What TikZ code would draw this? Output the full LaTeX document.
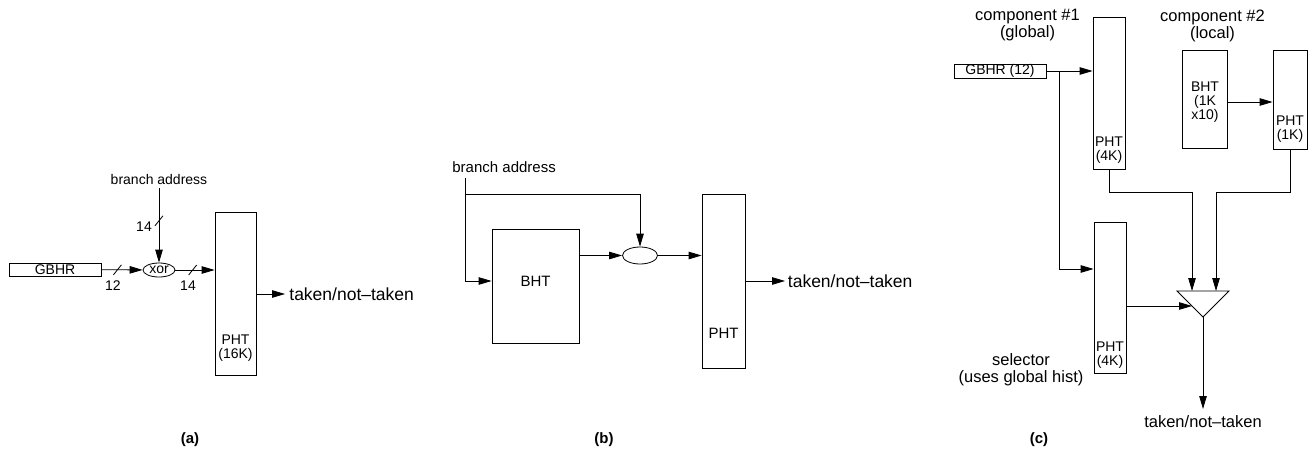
\documentclass[tikz,border=0pt]{standalone}
\usepackage{fontspec}
\setmainfont{Liberation Sans}
\usetikzlibrary{arrows.meta,shapes.geometric}
\tikzset{>={Triangle[length=13pt,width=7.5pt]},box/.style={draw,inner sep=0pt},
 txs/.style={font=\fontsize{14}{14}\selectfont,align=center},
 txm/.style={font=\fontsize{15}{15}\selectfont,align=center},
 txb/.style={font=\fontsize{16.5}{17}\selectfont,align=center},
 txo/.style={font=\fontsize{17.5}{17.5}\selectfont},
 bus/.pic={\draw[line width=0.8pt] (-4,5)--(4,-5);}}

\begin{document}
\begin{tikzpicture}[x=1pt,y=-1pt,line width=0.8pt]
\useasboundingbox (0,0) rectangle (1311,468);
% (a) gshare
\node[txs] (ba1) at (159,179) {branch address};
\node[box,txs,minimum width=92,minimum height=13] (gbhr1) at (55,269.5) {GBHR};
\node[box,txs,ellipse,minimum width=32,minimum height=14] (xor) at (159,270) {xor};
\node[box,minimum width=41,minimum height=163] (pht1) at (235.5,293.5) {};
\node[txs] (pht1t) at (235.5,348.5) {PHT\\(16K)};
\node[txo,anchor=west,inner sep=4pt] (tk1) at (285,294) {taken/not--taken};
\draw[->] (ba1) -- coordinate[pos=.44] (s1) (xor);
\draw[->] (gbhr1) -- coordinate[pos=.39] (s2) (xor);
\draw[->] (xor) -- coordinate[pos=.44] (s3) (xor -| pht1.west);
\foreach \s in {s1,s2,s3} {\pic at (\s) {bus};}
\node[txs] (w1) at (144,227) {14};
\node[txs] (w2) at (113,286) {12};
\node[txs] (w3) at (188,286) {14};
\draw[->] (pht1.east |- tk1) -- (tk1);
% (b) local
\node[txm,anchor=west,inner sep=3pt] (ba2) at (449,167) {branch address};
\coordinate (bsrc) at (465,178);
\coordinate (bj) at (465,194);
\node[box,minimum width=87,minimum height=114] (bht2) at (535.5,286) {};
\node[txm] (bht2t) at (535.5,281) {BHT};
\node[box,ellipse,minimum width=35,minimum height=17] (hsh) at (640,255.5) {};
\node[box,minimum width=43,minimum height=174] (pht2) at (723.5,281) {};
\node[txm] (pht2t) at (723.5,333) {PHT};
\node[txo,anchor=west,inner sep=2.5pt] (tk2) at (785,281) {taken/not--taken};
\draw[->] (bsrc) |- ([yshift=5pt]bht2.west);
\draw[->] (bj) -| (hsh);
\draw[->] (bht2.east |- hsh) -- (hsh);
\draw[->] (hsh) -- (hsh -| pht2.west);
\draw[->] (pht2) -- (tk2);
% (c) tournament
\node[txb] (comp1) at (1027.5,25.5) {component \#1\\(global)};
\node[box,txs,minimum width=92,minimum height=14] (gbhr3) at (1000,71) {GBHR (12)};
\node[box,minimum width=32,minimum height=152] (pht3) at (1109,93) {};
\node[txs] (pht3t) at (1109,150) {PHT\\(4K)};
\node[box,minimum width=32,minimum height=151] (psel) at (1110,297.5) {};
\node[txs] (pselt) at (1110,355) {PHT\\(4K)};
\node[txb] (sel) at (1021,369.5) {selector\\(uses global hist)};
\node[txb] (comp2) at (1212.5,25.5) {component \#2\\(local)};
\node[box,minimum width=45,minimum height=98] (bht3) at (1204.5,99) {};
\node[txs] (bht3t) at (1205,102.5) {BHT\\(1K\\x10)};
\node[box,minimum width=34,minimum height=99] (pht4) at (1290,99.5) {};
\node[txs] (pht4t) at (1290,129) {PHT\\(1K)};
\coordinate (gj) at (1059,71);
\draw[->] (gbhr3) -- (gbhr3 -| pht3.west);
\draw[->] (gj) |- ([yshift=28.5pt]psel.west);
\draw[->] ([yshift=-3pt]bht3.east) -- ([yshift=-3pt]bht3.east -| pht4.west);
\draw (1177,291) coordinate (mtl) -- (1229,291) coordinate (mtr)
 -- (1203,317) coordinate (mout) -- cycle;
\coordinate (min1) at (1192,291);
\coordinate (min2) at (1216,291);
\coordinate (min3) at (1192,306);
\draw[->] (pht3.south) -- ++(0,23) -| (min1);
\draw[->] (pht4.south) -- ++(0,43) -| (min2);
\draw[->] (psel.east |- min3) -- (min3);
\node[txb,anchor=north,inner sep=6pt] (tk3) at (1203,409) {taken/not--taken};
\draw[->] (mout) -- (tk3);
% captions
\foreach \x/\c in {190/a,604/b,1039/c}
 {\node[font=\fontsize{15}{15}\selectfont\bfseries] (cap\c) at (\x,440) {(\c)};}
\end{tikzpicture}
\end{document}
